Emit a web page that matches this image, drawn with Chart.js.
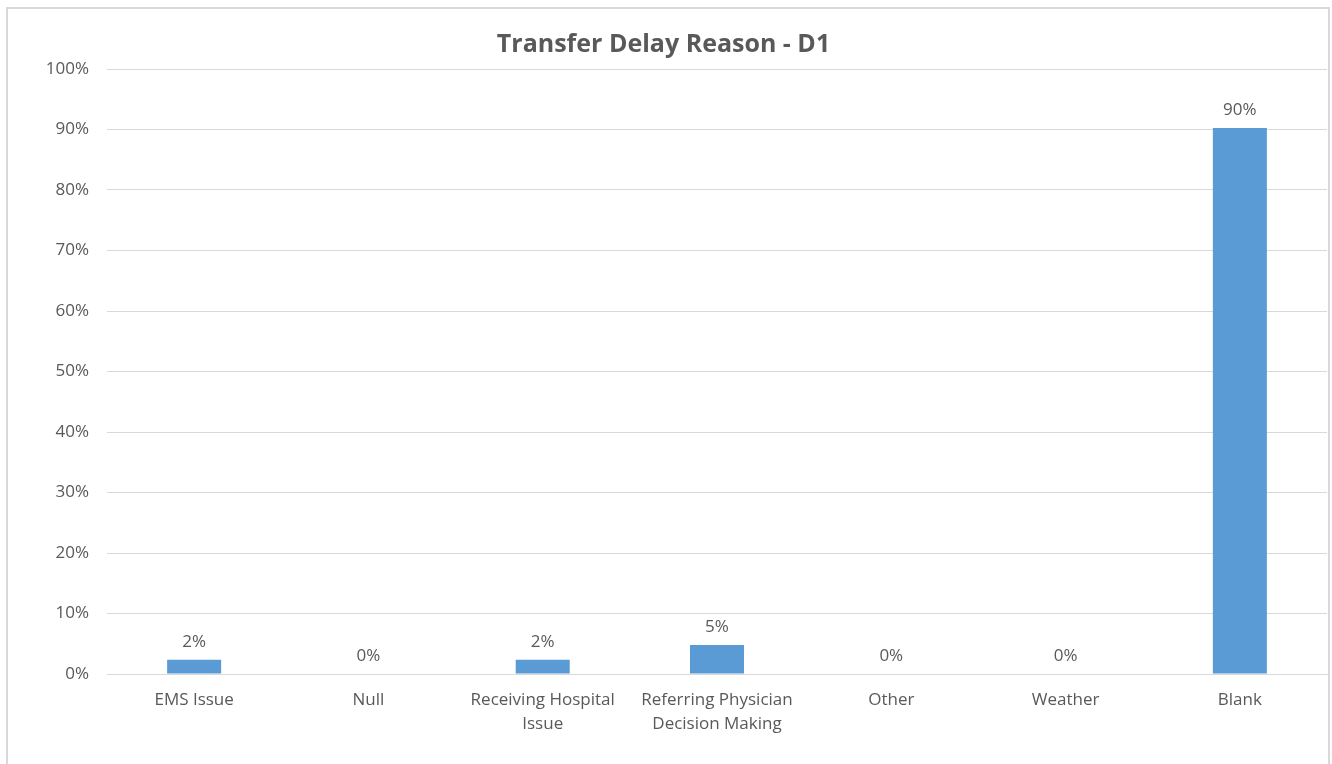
<!DOCTYPE html>
<html>
<head>
<meta charset="utf-8">
<script src="https://cdn.jsdelivr.net/npm/chart.js@4/dist/chart.umd.min.js"></script>
<style>
  body { margin: 0; background: #fff; overflow: hidden; }
  #frame {
    position: absolute; left: 6px; top: 7px; width: 1320px; height: 800px;
    border: 2px solid #d9d9d9;
  }
  #chart { position: absolute; left: 0; top: 0; }
</style>
</head>
<body>
<div id="frame"></div>
<canvas id="chart" width="1332" height="764"></canvas>
<script>
const categories = [
  "EMS Issue",
  "Null",
  ["Receiving Hospital", "Issue"],
  ["Referring Physician", "Decision Making"],
  "Other",
  "Weather",
  "Blank"
];
const shares = [2.36, 0, 2.36, 4.79, 0, 0, 90.25];
const yTickValues = [0, 10, 20, 30, 40, 50, 60, 70, 80, 90, 100];

const textColor = "#595959";
const gridColor = "#d9d9d9";
const fontFamily = "'Open Sans', sans-serif";

// percent labels above each bar
const barLabels = {
  id: "barLabels",
  afterDatasetsDraw(chart) {
    const ctx = chart.ctx;
    const meta = chart.getDatasetMeta(0);
    ctx.save();
    ctx.font = "17px " + fontFamily;
    ctx.fillStyle = textColor;
    ctx.textAlign = "center";
    ctx.textBaseline = "alphabetic";
    meta.data.forEach((bar, i) => {
      ctx.fillText(Math.round(shares[i]) + "%", bar.x, bar.y - 13);
    });
    ctx.restore();
  }
};

new Chart(document.getElementById("chart").getContext("2d"), {
  type: "bar",
  data: {
    labels: categories,
    datasets: [
      {
        data: shares,
        backgroundColor: "#5b9bd5",
        borderWidth: 0,
        barPercentage: 0.31,
        categoryPercentage: 1
      }
    ]
  },
  options: {
    responsive: false,
    animation: false,
    layout: { padding: { left: 0, right: 5, top: 0, bottom: 0 } },
    plugins: {
      legend: { display: false },
      tooltip: { enabled: false },
      title: {
        display: true,
        text: "Transfer Delay Reason - D1",
        color: textColor,
        font: { family: fontFamily, size: 25, weight: "bold", lineHeight: 1.2 },
        padding: { top: 30, bottom: 9 }
      }
    },
    scales: {
      x: {
        grid: { display: false, drawTicks: false },
        border: { display: true, color: gridColor, width: 1 },
        ticks: {
          color: textColor,
          font: { family: fontFamily, size: 17, lineHeight: 24 / 17 },
          padding: 14,
          maxRotation: 0,
          autoSkip: false
        },
        afterFit(scale) {
          scale.height = 90;
        }
      },
      y: {
        min: 0,
        max: 100,
        grid: { color: gridColor, lineWidth: 1, drawTicks: false },
        border: { display: false },
        afterBuildTicks(scale) {
          scale.ticks = yTickValues.map((v) => ({ value: v }));
        },
        ticks: {
          color: textColor,
          font: { family: fontFamily, size: 17 },
          padding: 18,
          callback: (v) => v + "%"
        },
        afterFit(scale) {
          scale.width = 107;
        }
      }
    }
  },
  plugins: [barLabels]
});
</script>
</body>
</html>
